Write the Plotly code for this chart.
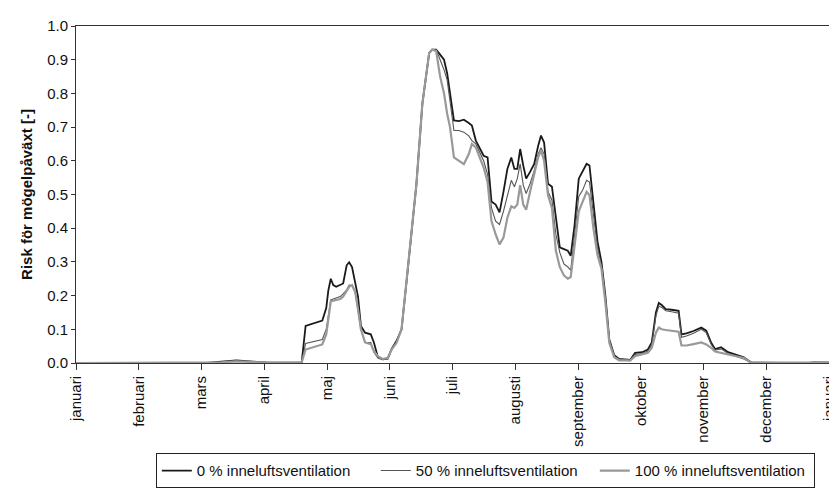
import plotly.graph_objects as go

# Day of year (0 = 1 januari, 365 = next 1 januari)
dag = [
    0, 63.3, 70.5, 77.7, 85.9, 93.0, 108.9, 109.4, 111.3, 119.4,
    121.3, 122.3, 123.5, 124.7, 126.1, 128.1, 129.5, 131.2, 132.4, 133.8,
    135.3, 136.7, 138.1, 140.1, 142.9, 144.4, 146.3, 148.7, 151.1, 153.0,
    155.4, 157.8, 160.2, 162.6, 165.0, 167.9, 171.2, 172.7, 174.6, 176.5,
    178.4, 179.9, 181.3, 183.2, 185.6, 188.0, 190.4, 191.9, 193.8, 195.7,
    197.6, 199.5, 201.4, 203.4, 205.3, 207.2, 209.1, 211.0, 212.5, 213.9,
    215.3, 216.8, 218.2, 220.1, 222.1, 224.0, 225.4, 226.9, 228.8, 230.7,
    232.6, 234.5, 236.5, 238.4, 239.8, 241.7, 243.7, 245.6, 247.5, 248.9,
    250.8, 252.8, 254.7, 256.6, 258.5, 260.9, 263.3, 266.2, 268.6, 271.0,
    274.4, 277.2, 279.1, 281.1, 282.5, 283.9, 285.9, 288.7, 292.1, 293.5,
    295.9, 299.3, 303.1, 305.5, 307.9, 309.8, 312.7, 316.1, 319.9, 323.7,
    327.1, 341.5, 355.9, 360.7, 365.0,
]

risk_0 = [
    0, 0, 0.004, 0.008, 0.004, 0.001, 0.001, 0.002, 0.11, 0.126,
    0.163, 0.215, 0.25, 0.231, 0.226, 0.231, 0.236, 0.29, 0.299, 0.285,
    0.241, 0.197, 0.11, 0.09, 0.085, 0.061, 0.018, 0.011, 0.013, 0.042,
    0.066, 0.10, 0.24, 0.38, 0.53, 0.77, 0.92, 0.93, 0.93, 0.915,
    0.90, 0.86, 0.80, 0.72, 0.718, 0.722, 0.712, 0.705, 0.66, 0.635,
    0.615, 0.61, 0.479, 0.47, 0.447, 0.508, 0.576, 0.61, 0.576, 0.576,
    0.635, 0.586, 0.547, 0.567, 0.591, 0.644, 0.675, 0.654, 0.532, 0.523,
    0.431, 0.343, 0.338, 0.333, 0.318, 0.411, 0.547, 0.567, 0.591, 0.586,
    0.47, 0.36, 0.30, 0.20, 0.07, 0.023, 0.012, 0.01, 0.009, 0.03,
    0.032, 0.04, 0.061, 0.15, 0.178, 0.172, 0.16, 0.158, 0.155, 0.085,
    0.088, 0.095, 0.105, 0.096, 0.06, 0.041, 0.047, 0.032, 0.024, 0.017,
    0.002, 0, 0.001, 0.003, 0.003,
]

risk_50 = [
    0, 0, 0.003, 0.006, 0.003, 0.001, 0.001, 0.002, 0.058, 0.07,
    0.10, 0.14, 0.187, 0.19, 0.192, 0.197, 0.205, 0.217, 0.231, 0.23,
    0.21, 0.15, 0.10, 0.061, 0.061, 0.032, 0.015, 0.01, 0.013, 0.04,
    0.062, 0.10, 0.24, 0.38, 0.53, 0.77, 0.92, 0.93, 0.93, 0.90,
    0.87, 0.84, 0.78, 0.69, 0.69, 0.685, 0.674, 0.66, 0.65, 0.625,
    0.60, 0.56, 0.46, 0.421, 0.411, 0.45, 0.498, 0.542, 0.523, 0.547,
    0.591, 0.528, 0.503, 0.532, 0.571, 0.62, 0.639, 0.62, 0.508, 0.484,
    0.382, 0.328, 0.294, 0.285, 0.275, 0.392, 0.494, 0.513, 0.542, 0.537,
    0.44, 0.34, 0.29, 0.19, 0.07, 0.02, 0.01, 0.009, 0.008, 0.025,
    0.028, 0.035, 0.055, 0.14, 0.169, 0.165, 0.155, 0.152, 0.148, 0.076,
    0.08, 0.088, 0.10, 0.09, 0.055, 0.038, 0.042, 0.028, 0.02, 0.012,
    0.001, 0, 0.001, 0.003, 0.003,
]

risk_100 = [
    0, 0, 0.002, 0.005, 0.002, 0.001, 0.001, 0.002, 0.04, 0.055,
    0.085, 0.125, 0.183, 0.185, 0.187, 0.19, 0.197, 0.215, 0.226, 0.231,
    0.212, 0.16, 0.10, 0.061, 0.056, 0.035, 0.02, 0.012, 0.015, 0.04,
    0.06, 0.10, 0.24, 0.38, 0.53, 0.77, 0.92, 0.93, 0.925, 0.85,
    0.80, 0.74, 0.70, 0.61, 0.60, 0.59, 0.62, 0.65, 0.64, 0.61,
    0.58, 0.537, 0.421, 0.382, 0.352, 0.372, 0.431, 0.465, 0.46, 0.47,
    0.528, 0.47, 0.455, 0.508, 0.557, 0.61, 0.63, 0.60, 0.498, 0.46,
    0.333, 0.285, 0.26, 0.25, 0.255, 0.352, 0.45, 0.479, 0.508, 0.498,
    0.40, 0.32, 0.28, 0.18, 0.06, 0.017, 0.008, 0.008, 0.007, 0.02,
    0.025, 0.03, 0.045, 0.09, 0.105, 0.10, 0.098, 0.096, 0.093, 0.052,
    0.052, 0.056, 0.061, 0.055, 0.045, 0.034, 0.03, 0.026, 0.02, 0.015,
    0.001, 0, 0.001, 0.003, 0.003,
]

manader = ["januari", "februari", "mars", "april", "maj", "juni", "juli",
           "augusti", "september", "oktober", "november", "december", "januari"]
serienamn = ["0 % inneluftsventilation", "50 % inneluftsventilation",
             "100 % inneluftsventilation"]

font = "Liberation Sans, Arial, sans-serif"

fig = go.Figure()
fig.add_trace(go.Scatter(x=dag, y=risk_0, mode="lines", name=serienamn[0],
                         line=dict(color="#1a1a1a", width=1.8)))
fig.add_trace(go.Scatter(x=dag, y=risk_50, mode="lines", name=serienamn[1],
                         line=dict(color="#555555", width=1.1)))
fig.add_trace(go.Scatter(x=dag, y=risk_100, mode="lines", name=serienamn[2],
                         line=dict(color="#999999", width=2.2)))

fig.update_layout(
    width=837, height=488,
    margin=dict(l=68, r=8, t=18, b=127),
    paper_bgcolor="white", plot_bgcolor="white",
    font=dict(family=font, color="#111", size=15),
    showlegend=True,
    legend=dict(
        orientation="h", x=0.106, y=-0.268, xanchor="left", yanchor="top",
        bordercolor="#222", borderwidth=1, bgcolor="white",
        font=dict(size=15, family=font, color="#111"),
        entrywidth=174, entrywidthmode="pixels", itemwidth=30,
        tracegroupgap=0,
    ),
)

fig.update_xaxes(
    range=[0, 365],
    tickvals=[k * 365 / 12 for k in range(13)],
    ticktext=manader,
    tickangle=-90,
    ticks="outside", ticklen=6, tickcolor="#333", tickwidth=1,
    showline=True, linecolor="#333", linewidth=1, mirror=True,
    showgrid=False, zeroline=False,
    tickfont=dict(size=15, family=font, color="#111"),
)
fig.update_yaxes(
    range=[0, 1.0],
    tickvals=[k / 10 for k in range(11)],
    tickformat=".1f",
    ticks="outside", ticklen=4, tickcolor="#333", tickwidth=1,
    showline=True, linecolor="#333", linewidth=1, mirror=True,
    showgrid=False, zeroline=False,
    tickfont=dict(size=15, family=font, color="#111"),
    title=dict(text="<b>Risk för mögelpåväxt [-]</b>", standoff=10,
               font=dict(size=15, family=font, color="#111")),
)

fig.write_html("out.html")
